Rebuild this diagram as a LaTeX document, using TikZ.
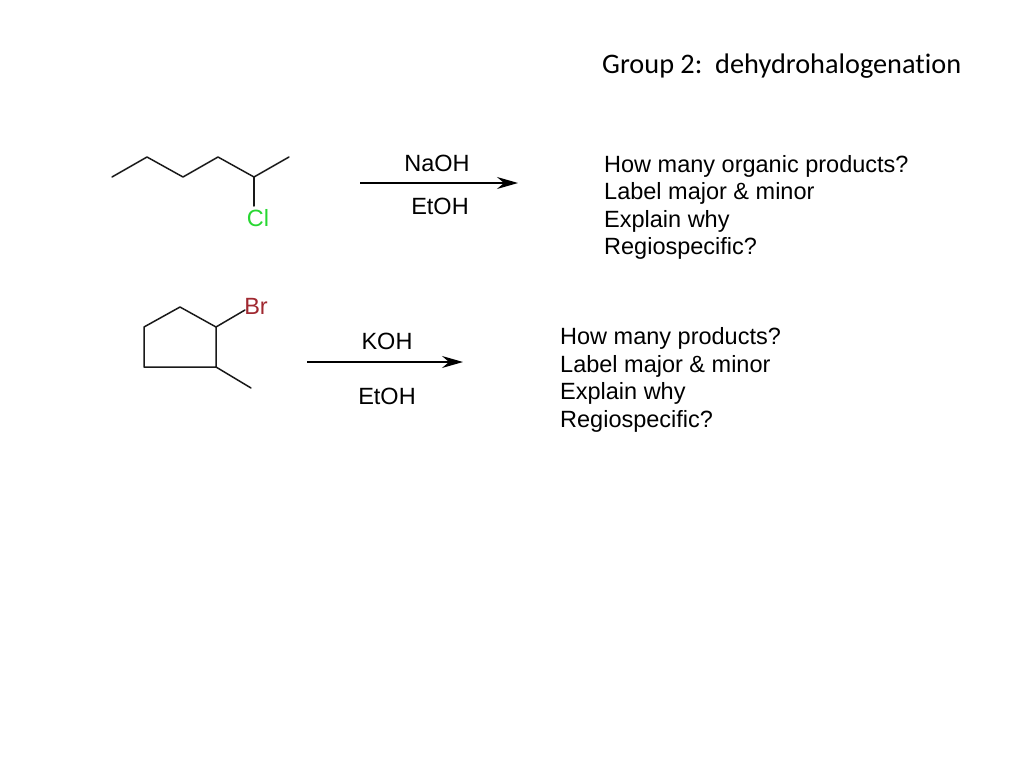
\documentclass[tikz,border=0pt]{standalone}
\usepackage{fontspec}
\setmainfont{Liberation Sans}
\newfontfamily\titlefont[Ligatures=NoCommon,Contextuals=NoAlternate]{Carlito}
\usetikzlibrary{arrows.meta}
\definecolor{clgreen}{RGB}{40,215,50}
\definecolor{brred}{RGB}{160,40,48}
\tikzset{
  bond/.style={line width=1.5pt,black!90,line cap=round,line join=round},
  rxn/.style={line width=1.6pt,black,-{Stealth[length=21pt,width=12pt,inset=7pt]}},
  lab/.style={inner sep=0pt,font=\fontsize{23.5}{23.5}\selectfont,text=black},
  qline/.style={inner sep=0pt,anchor=base west,font=\fontsize{23.5}{23.5}\selectfont,text=black},
  ttl/.style={inner sep=0pt,anchor=base west,font=\titlefont\fontsize{28.3}{28.3}\selectfont,text=black},
  atomcl/.style={inner sep=0pt,font=\fontsize{23.5}{23.5}\selectfont,text=clgreen},
  atombr/.style={inner sep=0pt,font=\fontsize{23.5}{23.5}\selectfont,text=brred}
}
\begin{document}
\begin{tikzpicture}[x=1pt,y=-1pt]
\useasboundingbox (0,0) rectangle (1024,768);
\node[ttl] (title) at (602,73) {Group 2:\ \ dehydrohalogenation};
% chain
\coordinate (c1) at (112,177);
\coordinate (c2) at (147,157);
\coordinate (c3) at (183,177);
\coordinate (c4) at (218,157);
\coordinate (c5) at (254,177);
\coordinate (c6) at (289,157);
\coordinate (c7) at (254,206);
\node[atomcl] (cl) at (258,218) {Cl};
\draw[bond] (c1)--(c2)--(c3)--(c4)--(c5)--(c6);
\draw[bond] (c5)--(c7);
% ring
\coordinate (r1) at (144,327);
\coordinate (r2) at (180,307);
\coordinate (r3) at (216,327);
\coordinate (r4) at (216,367);
\coordinate (r5) at (144,367);
\coordinate (m) at (251,388);
\coordinate (b) at (245,310);
\node[atombr] (br) at (256,306) {Br};
\draw[bond] (r1)--(r2)--(r3)--(r4)--(r5)--cycle;
\draw[bond] (r3)--(b);
\draw[bond] (r4)--(m);
% reactions
\coordinate (a1s) at (360,183);
\coordinate (a1e) at (518,183);
\draw[rxn] (a1s)--(a1e);
\node[lab] (naoh) at (437,163) {NaOH};
\node[lab] (etoh1) at (440,206) {EtOH};
\coordinate (a2s) at (307,362);
\coordinate (a2e) at (463,362);
\draw[rxn] (a2s)--(a2e);
\node[lab] (koh) at (387,341) {KOH};
\node[lab] (etoh2) at (387,396) {EtOH};
% questions
\node[qline] (q1) at (604,172) {How many organic products?};
\node[qline] (q2) at (604,199) {Label major \& minor};
\node[qline] (q3) at (604,227) {Explain why};
\node[qline] (q4) at (604,254) {Regiospecific?};
\node[qline] (p1) at (560,344) {How many products?};
\node[qline] (p2) at (560,372) {Label major \& minor};
\node[qline] (p3) at (560,399) {Explain why};
\node[qline] (p4) at (560,427) {Regiospecific?};
\end{tikzpicture}
\end{document}
